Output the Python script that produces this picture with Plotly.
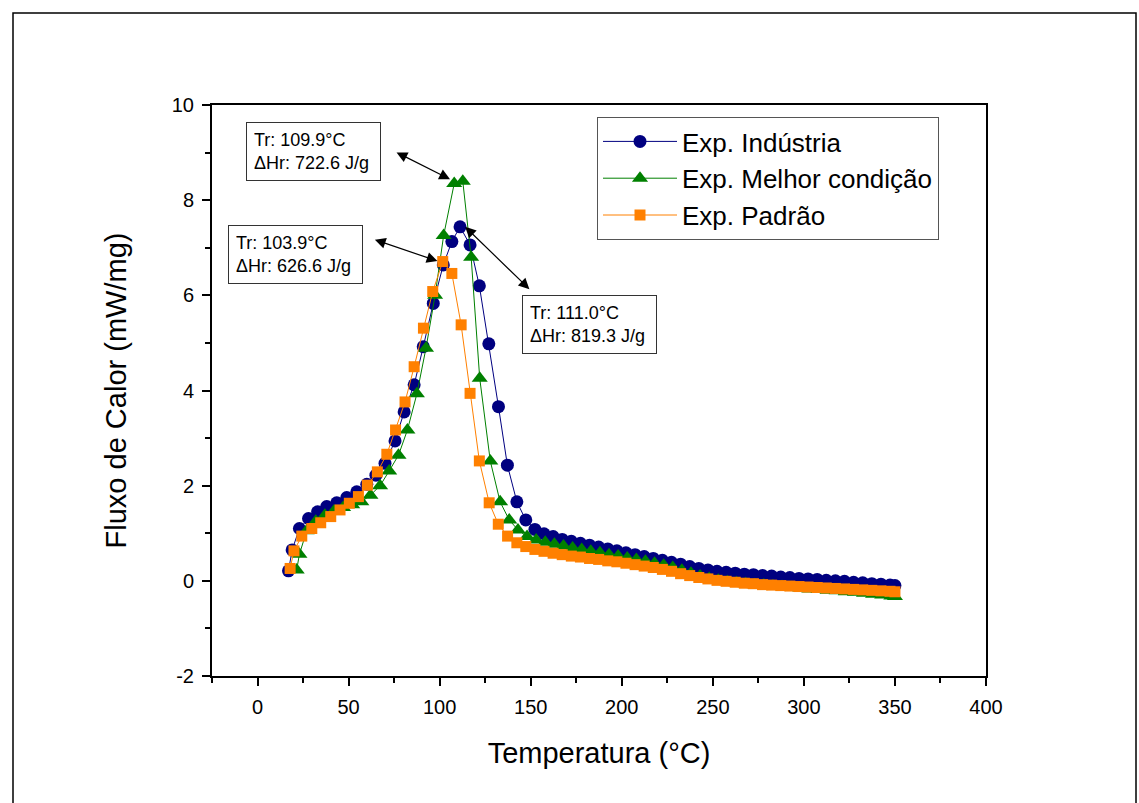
import plotly.graph_objects as go

# ---------------- data ----------------
x_industria = [17, 19, 23, 28, 33, 38, 43.5, 49, 54.5, 60, 65, 70, 75.5, 80.5, 86, 91, 96.5, 102,
               106.7, 111.2, 116.7, 121.8, 127, 132.3, 137.2, 142.4, 147.3, 152.3,
               157.3, 162.3, 167.3, 172.3, 177.3, 182.3, 187.3, 192.3, 197.3, 202.3,
               207.3, 212.3, 217.3, 222.3, 227.3, 232.3, 237.3, 242.3, 247.3, 252.3,
               257.3, 262.3, 267.3, 272.3, 277.3, 282.3, 287.3, 292.3, 297.3, 302.3,
               307.3, 312.3, 317.3, 322.3, 327.3, 332.3, 337.3, 342.3, 347.3, 350]
y_industria = [0.21, 0.65, 1.10, 1.31, 1.45, 1.56, 1.64, 1.75, 1.87, 2.03, 2.22, 2.47, 2.94, 3.55,
               4.12, 4.92, 5.83, 6.64, 7.13, 7.44, 7.06, 6.20, 4.98, 3.66, 2.43, 1.66, 1.28, 1.08,
               0.99, 0.93, 0.87, 0.83, 0.79, 0.75, 0.71, 0.67, 0.63, 0.59,
               0.55, 0.51, 0.47, 0.43, 0.39, 0.35, 0.30, 0.26, 0.23, 0.20,
               0.18, 0.16, 0.14, 0.13, 0.11, 0.10, 0.08, 0.07, 0.05, 0.04,
               0.03, 0.01, 0.00, -0.01, -0.03, -0.04, -0.06, -0.07, -0.09, -0.10]

x_melhor = [21.5, 23, 27, 32, 37, 42, 47, 52, 57, 62, 67.3, 72.3, 77.4, 82.3, 87.5, 92.5, 97.5,
            102.2, 108, 112.7, 117.3, 122, 127.8, 133.2, 138.2, 143, 148,
            153, 158, 163, 168, 173, 178, 183, 188, 193, 198,
            203, 208, 213, 218, 223, 228, 233, 238, 243, 248,
            253, 258, 263, 268, 273, 278, 283, 288, 293, 298,
            303, 308, 313, 318, 323, 328, 333, 338, 343, 348, 350]
y_melhor = [0.23, 0.56, 1.05, 1.25, 1.38, 1.47, 1.54, 1.60, 1.66, 1.80, 2.00, 2.31, 2.64, 3.17,
            3.93, 4.89, 6.00, 7.26, 8.35, 8.40, 6.80, 4.26, 2.52, 1.66, 1.28, 1.07, 0.93,
            0.86, 0.81, 0.77, 0.73, 0.69, 0.66, 0.62, 0.59, 0.55, 0.52,
            0.48, 0.45, 0.41, 0.37, 0.33, 0.28, 0.22, 0.16, 0.10, 0.05,
            0.01, -0.02, -0.04, -0.06, -0.08, -0.09, -0.11, -0.12, -0.14, -0.15,
            -0.17, -0.18, -0.20, -0.21, -0.23, -0.24, -0.26, -0.28, -0.30, -0.32, -0.33]

x_padrao = [17.9, 20, 24.3, 29.8, 34.7, 40.2, 45.3, 50.4, 55.4, 60.3, 65.8, 71, 75.8, 81, 86,
            91.1, 96.2, 101.7, 106.7, 111.8, 116.7, 121.8, 127.2, 132.2, 137.3, 142.4, 147.3, 152.3,
            157.3, 162.3, 167.3, 172.3, 177.3, 182.3, 187.3, 192.3, 197.3, 202.3,
            207.3, 212.3, 217.3, 222.3, 227.3, 232.3, 237.3, 242.3, 247.3, 252.3,
            257.3, 262.3, 267.3, 272.3, 277.3, 282.3, 287.3, 292.3, 297.3, 302.3,
            307.3, 312.3, 317.3, 322.3, 327.3, 332.3, 337.3, 342.3, 347.3, 350]
y_padrao = [0.26, 0.63, 0.94, 1.10, 1.22, 1.35, 1.49, 1.63, 1.77, 2.01, 2.29, 2.66, 3.17, 3.76,
            4.50, 5.31, 6.08, 6.71, 6.46, 5.38, 3.94, 2.52, 1.64, 1.19, 0.94, 0.80, 0.72, 0.66,
            0.62, 0.58, 0.55, 0.52, 0.50, 0.47, 0.45, 0.42, 0.40, 0.37,
            0.34, 0.31, 0.28, 0.24, 0.20, 0.15, 0.11, 0.07, 0.04, 0.01,
            -0.01, -0.03, -0.05, -0.06, -0.08, -0.09, -0.10, -0.11, -0.12, -0.13,
            -0.14, -0.15, -0.16, -0.17, -0.18, -0.19, -0.20, -0.21, -0.22, -0.23]

series_names = ["Exp. Indústria", "Exp. Melhor condição", "Exp. Padrão"]

x_tickvals = [0, 50, 100, 150, 200, 250, 300, 350, 400]
x_ticktext = ["0", "50", "100", "150", "200", "250", "300", "350", "400"]
y_tickvals = [-2, 0, 2, 4, 6, 8, 10]
y_ticktext = ["-2", "0", "2", "4", "6", "8", "10"]

# annotation texts, box centres, arrow ends
ann_texts = ["Tr: 109.9°C<br>ΔHr: 722.6 J/g",
             "Tr: 103.9°C<br>ΔHr: 626.6 J/g",
             "Tr: 111.0°C<br>ΔHr: 819.3 J/g"]
ann_box_x = [31.0, 20.8, 182.2]
ann_box_y = [9.03, 6.86, 5.39]
arrow_head_x = [105.7, 98.8, 114.0]
arrow_head_y = [8.44, 6.72, 7.44]
arrow_tail_x = [75.5, 63.6, 150.1]
arrow_tail_y = [9.02, 7.18, 6.10]

FONT = "Arial, Liberation Sans, sans-serif"
colors = ["#000080", "#008000", "#FF8000"]
symbols = ["circle", "triangle-up", "square"]
sizes = [13, 14, 11]

fig = go.Figure()
for xs, ys, name, c, s, sz in zip([x_industria, x_melhor, x_padrao],
                                 [y_industria, y_melhor, y_padrao],
                                 series_names, colors, symbols, sizes):
    fig.add_trace(go.Scatter(
        x=xs, y=ys, name=name, mode="lines+markers",
        line=dict(color=c, width=1),
        marker=dict(symbol=s, size=sz, color=c, line=dict(width=0)),
    ))

for t, bx, by in zip(ann_texts, ann_box_x, ann_box_y):
    fig.add_annotation(x=bx, y=by, xref="x", yref="y", text=t, showarrow=False,
                       align="left", font=dict(family=FONT, size=18, color="black"),
                       bordercolor="#333333", borderwidth=1, borderpad=7,
                       bgcolor="white", width=119, height=43)

for hx, hy, tx, ty in zip(arrow_head_x, arrow_head_y, arrow_tail_x, arrow_tail_y):
    fig.add_annotation(x=hx, y=hy, ax=tx, ay=ty, xref="x", yref="y", axref="x", ayref="y",
                       text="", showarrow=True, arrowhead=2, arrowside="end+start",
                       arrowsize=1.8, arrowwidth=1.2, arrowcolor="black",
                       standoff=0, startstandoff=0)

axis_common = dict(showline=True, linecolor="black", linewidth=2, mirror=True,
                   ticks="outside", tickcolor="black", tickwidth=2, ticklen=8,
                   showgrid=False, zeroline=False,
                   tickfont=dict(family=FONT, size=20, color="black"))

fig.update_xaxes(range=[-25, 400], tickvals=x_tickvals, ticktext=x_ticktext,
                 minor=dict(ticks="outside", ticklen=5, tickwidth=2, tickcolor="black",
                            dtick=25, tick0=25, showgrid=False),
                 title=dict(text="Temperatura (°C)", font=dict(family=FONT, size=29, color="black"),
                            standoff=26),
                 ticklabelstandoff=4,
                 **axis_common)
fig.update_yaxes(range=[-2, 10], tickvals=y_tickvals, ticktext=y_ticktext,
                 minor=dict(ticks="outside", ticklen=5, tickwidth=2, tickcolor="black",
                            dtick=1, tick0=1, showgrid=False),
                 title=dict(text="Fluxo de Calor (mW/mg)", font=dict(family=FONT, size=29, color="black"),
                            standoff=37),
                 ticklabelstandoff=4,
                 **axis_common)

L, R, T, B = 212, 986, 105, 676
W, H = 1139, 803
pw, ph = R - L, B - T

fig.update_layout(
    width=W, height=H,
    margin=dict(l=L, r=W - R, t=T, b=H - B, pad=0),
    paper_bgcolor="white", plot_bgcolor="white",
    font=dict(family=FONT, color="black"),
    showlegend=True,
    legend=dict(x=(597 - L) / pw, y=(B - 117) / ph, xanchor="left", yanchor="top",
                bordercolor="#555555", borderwidth=1, bgcolor="white",
                font=dict(family=FONT, size=26, color="black"),
                itemwidth=74, tracegroupgap=0),
    shapes=[dict(type="rect", xref="paper", yref="paper",
                 x0=(13 - L) / pw, x1=(1136 - L) / pw,
                 y0=(B - 815) / ph, y1=(B - 13) / ph,
                 line=dict(color="black", width=1.5), fillcolor="rgba(0,0,0,0)", layer="below")],
)

fig.write_html("out.html")
